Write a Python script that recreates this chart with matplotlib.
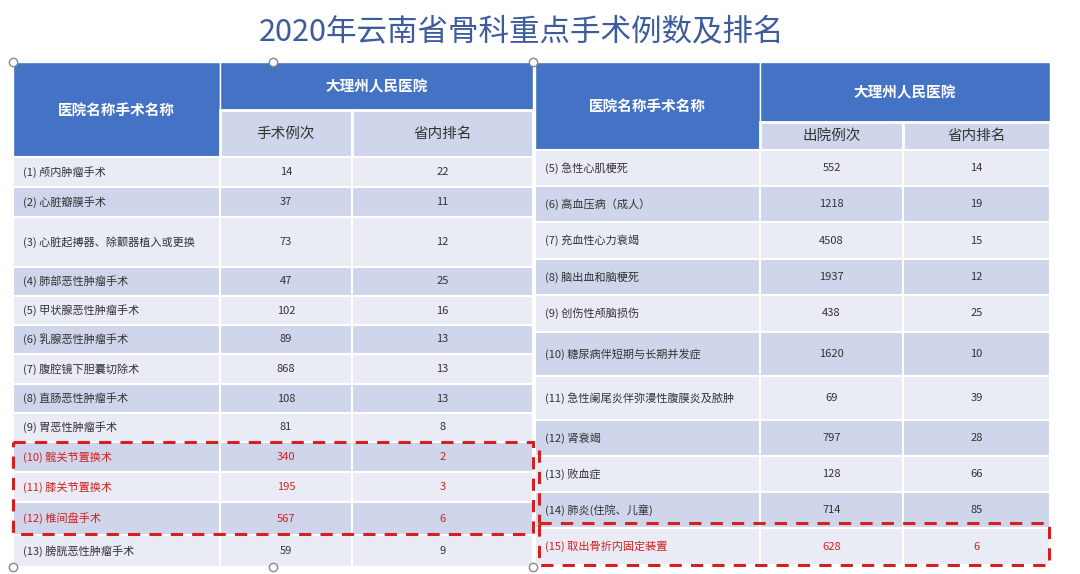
import matplotlib
matplotlib.use("Agg")
import matplotlib.pyplot as plt
from matplotlib.patches import Rectangle

plt.rcParams['font.family'] = ['Noto Sans CJK SC', 'DejaVu Sans']

title = "2020年云南省骨科重点手术例数及排名"
hospital = "大理州人民医院"
left_cols = ["医院名称手术名称", "手术例次", "省内排名"]
left_names = ["(1) 颅内肿瘤手术", "(2) 心脏瓣膜手术", "(3) 心脏起搏器、除颤器植入或更换", "(4) 肺部恶性肿瘤手术",
              "(5) 甲状腺恶性肿瘤手术", "(6) 乳腺恶性肿瘤手术", "(7) 腹腔镜下胆囊切除术", "(8) 直肠恶性肿瘤手术",
              "(9) 胃恶性肿瘤手术", "(10) 髋关节置换术", "(11) 膝关节置换术", "(12) 椎间盘手术", "(13) 膀胱恶性肿瘤手术"]
left_counts = [14, 37, 73, 47, 102, 89, 868, 108, 81, 340, 195, 567, 59]
left_ranks = [22, 11, 12, 25, 16, 13, 13, 13, 8, 2, 3, 6, 9]
left_red = [9, 10, 11]

right_cols = ["医院名称手术名称", "出院例次", "省内排名"]
right_names = ["(5) 急性心肌梗死", "(6) 高血压病（成人）", "(7) 充血性心力衰竭", "(8) 脑出血和脑梗死",
               "(9) 创伤性颅脑损伤", "(10) 糖尿病伴短期与长期并发症", "(11) 急性阑尾炎伴弥漫性腹膜炎及脓肿",
               "(12) 肾衰竭", "(13) 败血症", "(14) 肺炎(住院、儿童)", "(15) 取出骨折内固定装置"]
right_counts = [552, 1218, 4508, 1937, 438, 1620, 69, 797, 128, 714, 628]
right_ranks = [14, 19, 15, 12, 25, 10, 39, 28, 66, 85, 6]
right_red = [10]

W, H = 1080, 574
fig = plt.figure(figsize=(W/100, H/100), dpi=100)
ax = fig.add_axes([0, 0, 1, 1])
ax.set_xlim(0, W); ax.set_ylim(H, 0); ax.axis('off')
fig.patch.set_facecolor('white')

BLUE = '#4472c4'; LIGHT = '#e9ecf4'; DARK = '#cfd5ea'; RED = '#d62020'

def table(xs, ytop, yname, yhdr, rows, cols, names, counts, ranks, red):
    ax.add_patch(Rectangle((xs[0], ytop), xs[1]-xs[0], yhdr-ytop, fc=BLUE, ec='white', lw=1))
    ax.add_patch(Rectangle((xs[1], ytop), xs[3]-xs[1], yname-ytop, fc=BLUE, ec='white', lw=1))
    ax.text((xs[0]+xs[1])/2, (ytop+yhdr)/2, cols[0], color='white', fontsize=10.5, fontweight='bold', ha='center', va='center')
    ax.text((xs[1]+xs[3])/2, (ytop+yname)/2, hospital, color='white', fontsize=10.5, fontweight='bold', ha='center', va='center')
    for j in (1, 2):
        ax.add_patch(Rectangle((xs[j], yname), xs[j+1]-xs[j], yhdr-yname, fc=DARK, ec='white', lw=2))
        ax.text((xs[j]+xs[j+1])/2, (yname+yhdr)/2, cols[j], color='#333333', fontsize=10.5, ha='center', va='center')
    for i, (n, c, r) in enumerate(zip(names, counts, ranks)):
        y0, y1 = rows[i], rows[i+1]
        fc = LIGHT if i % 2 == 0 else DARK
        col = RED if i in red else '#333333'
        for j in range(3):
            ax.add_patch(Rectangle((xs[j], y0), xs[j+1]-xs[j], y1-y0, fc=fc, ec='white', lw=1.5))
        yc = (y0+y1)/2
        ax.text(xs[0]+10, yc, n, color=col, fontsize=8, ha='left', va='center')
        ax.text((xs[1]+xs[2])/2, yc, str(c), color=col, fontsize=8, ha='center', va='center')
        ax.text((xs[2]+xs[3])/2, yc, str(r), color=col, fontsize=8, ha='center', va='center')

lx = [13, 220, 352, 533]
lrows = [157, 187, 217, 267, 296, 325, 354, 384, 413, 442, 472, 502, 535, 567]
table(lx, 62, 110, 157, lrows, left_cols, left_names, left_counts, left_ranks, left_red)
rx = [535, 760, 903, 1050]
rrows = [150, 186, 222, 259, 295, 332, 376, 420, 456, 492, 528, 565]
table(rx, 62, 122, 150, rrows, right_cols, right_names, right_counts, right_ranks, right_red)

ax.text(522, 32, "  ".join(title[:4].split()) if False else title, color='#3d5c9c', fontsize=22,
        ha='center', va='center', fontweight='medium')

ax.add_patch(Rectangle((13, 442), 520, 92, fill=False, ec=RED, lw=2.2, ls=(0, (4, 3))))
ax.add_patch(Rectangle((539, 523), 510, 42, fill=False, ec=RED, lw=2.2, ls=(0, (4, 3))))
ax.plot([539, 539], [450, 523], color=RED, lw=2.2, ls=(0, (4, 3)))

for (x, y) in [(13, 62), (273, 62), (533, 62), (13, 567), (273, 567), (533, 567)]:
    ax.plot(x, y, 'o', ms=6, mfc='white', mec='#888888', mew=1)

fig.savefig('out.png', dpi=100)
